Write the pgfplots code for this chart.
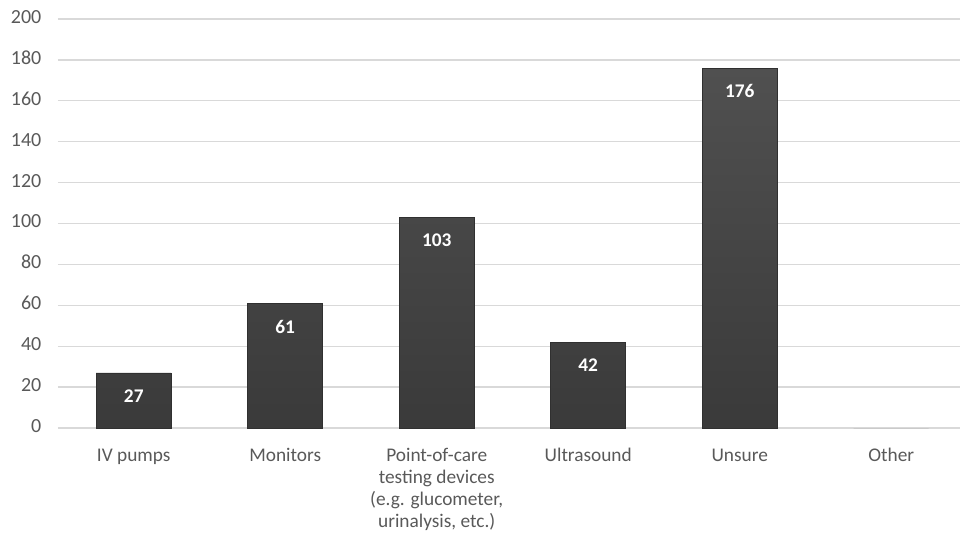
\documentclass[border=0pt]{standalone}
\usepackage{pgfplots}
\pgfplotsset{compat=1.18}
\usepackage{fontspec}
\setmainfont{Carlito}
\definecolor{ticktext}{RGB}{89,89,89}
\definecolor{gridgray}{RGB}{217,217,217}
\definecolor{bartop}{RGB}{80,80,80}
\definecolor{barbottom}{RGB}{58,58,58}
\definecolor{baredge}{RGB}{48,48,48}
\begin{document}
\begin{tikzpicture}
\useasboundingbox (-43.5pt,-78pt) rectangle (676.5pt,321pt);
\begin{axis}[
  scale only axis,
  width=676.5pt, height=306.75pt,
  xmin=-0.5, xmax=5.454,
  ymin=0, ymax=200,
  ytick={0,20,...,200},
  xtick={0,1,2,3,4,5},
  xticklabels={IV pumps, Monitors, {Point-of-care\\testing devices\\(e.g. glucometer,\\urinalysis, etc.)}, Ultrasound, Unsure, Other},
  axis line style={draw=none},
  major tick length=0pt,
  ymajorgrids,
  grid style={gridgray, line width=1pt},
  /pgf/number format/assume math mode=true,
  typeset ticklabels with strut,
  tick label style={font=\fontsize{14.5}{16.5}\selectfont, text=ticktext},
  yticklabel style={xshift=-9pt, font=\fontsize{15}{16.5}\selectfont},
  xticklabel style={align=center, yshift=-10pt},
  ybar, bar width=56.25pt,
  clip=false,
]
\addplot[bar shift=0pt, draw=baredge, top color=bartop, bottom color=barbottom,
  nodes near coords,
  every node near coord/.append style={anchor=north, yshift=-9pt, text=white,
    font=\fontsize{14.5}{17}\selectfont\bfseries}]
  coordinates {(0,27) (1,61) (2,103) (3,42) (4,176)};
\addplot[bar shift=0pt, draw=gridgray!90!black, fill=gridgray]
  coordinates {(5,0)};
\end{axis}
\end{tikzpicture}
\end{document}
